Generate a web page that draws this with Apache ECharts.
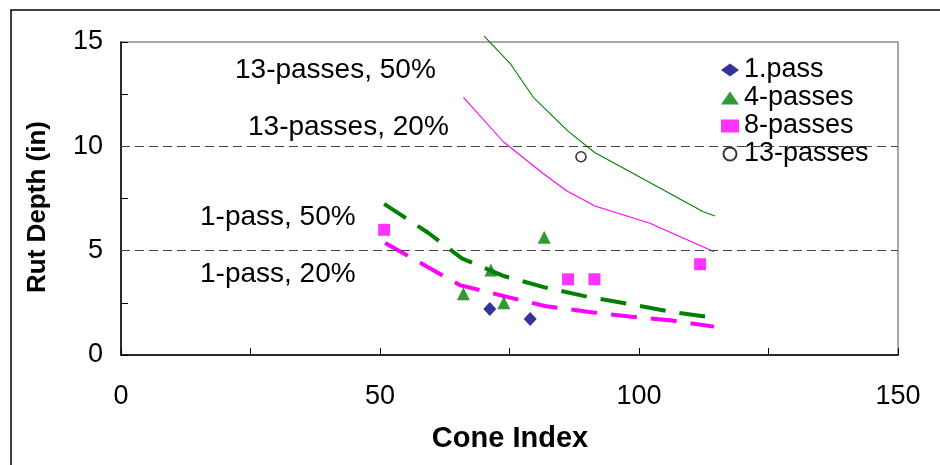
<!DOCTYPE html>
<html>
<head>
<meta charset="utf-8">
<script src="https://cdn.jsdelivr.net/npm/echarts@6/dist/echarts.min.js"></script>
<style>
  html, body { margin: 0; padding: 0; background: #fff; }
  #chart { width: 940px; height: 465px; }
</style>
</head>
<body>
<div id="chart"></div>
<script>
// Measured rut depths (Cone Index, Rut Depth in inches)
const onePass = [[71.2, 2.2], [79.0, 1.72]];
const fourPasses = [[66.1, 2.94], [71.4, 4.07], [73.9, 2.5], [81.7, 5.64]];
const eightPasses = [[50.8, 6.0], [86.3, 3.63], [91.4, 3.63], [111.8, 4.35]];
const thirteenPasses = [[88.8, 9.5]];

// Predicted rut depth curves
const pred13Pass50 = [[70.1, 15.28], [75.1, 13.98], [79.6, 12.35], [86.3, 10.73], [91.5, 9.69], [98.9, 8.7], [112.4, 6.87], [114.7, 6.66]];
const pred13Pass20 = [[66.1, 12.35], [73.8, 10.22], [81.5, 8.7], [86.0, 7.87], [91.5, 7.14], [102.1, 6.31], [114.5, 4.95]];
const pred1Pass50 = [[50.8, 7.24], [59.3, 5.86], [65.8, 4.63], [73.7, 3.8], [81.8, 3.24], [90.1, 2.79], [98.2, 2.44], [106.3, 2.07], [114.5, 1.78]];
const pred1Pass20 = [[51.0, 5.37], [58.0, 4.39], [65.4, 3.35], [73.8, 2.83], [81.8, 2.35], [90.1, 2.07], [98.2, 1.84], [106.3, 1.65], [114.5, 1.36]];

// Reference depths drawn as dashed horizontal lines
const refDepths = [5, 10];

const curveLabels = ['13-passes, 50%', '13-passes, 20%', '1-pass, 50%', '1-pass, 20%'];
const legendNames = ['1.pass', '4-passes', '8-passes', '13-passes'];

const FONT = "'Liberation Sans', Arial, sans-serif";
const FS = 27;

const chart = echarts.init(document.getElementById('chart'), null, { renderer: 'canvas' });

// Pixel anchors (left edge, vertical middle) of the curve captions
const labelPos = [[235, 70], [248, 127], [200, 217], [200, 274]];

const option = {
  backgroundColor: '#fff',
  animation: false,
  grid: {
    left: 121, right: 42, top: 42, bottom: 110,
    show: true, borderColor: '#8a8a8a', borderWidth: 1.5, backgroundColor: 'transparent'
  },
  xAxis: {
    type: 'value', min: 0, max: 150, interval: 25,
    axisLine: { show: true, onZero: false, lineStyle: { color: '#000', width: 1.5 } },
    axisTick: { show: true, inside: true, length: 7, lineStyle: { color: '#000', width: 1 } },
    axisLabel: {
      margin: 28, color: '#000', fontFamily: FONT, fontSize: FS,
      formatter: v => (v % 50 === 0 ? String(v) : '')
    },
    splitLine: { show: false }
  },
  yAxis: {
    type: 'value', min: 0, max: 15, interval: 2.5,
    axisLine: { show: true, onZero: false, lineStyle: { color: '#000', width: 1.5 } },
    axisTick: { show: true, inside: true, length: 7, lineStyle: { color: '#000', width: 1 } },
    axisLabel: {
      margin: 18, color: '#000', fontFamily: FONT, fontSize: FS,
      formatter: v => (v % 5 === 0 ? String(v) : '')
    },
    splitLine: { show: false }
  },
  legend: {
    data: legendNames,
    orient: 'vertical',
    left: 716, top: 51,
    itemWidth: 18, itemHeight: 13, itemGap: 0,
    textStyle: { fontFamily: FONT, fontSize: FS, color: '#000', lineHeight: 28 },
    selectedMode: false
  },
  graphic: [
    {
      type: 'rect', z: -10, silent: true,
      shape: { x: 11, y: 10, width: 1200, height: 1200 },
      style: { fill: 'none', stroke: '#000', lineWidth: 1.5 }
    },
    {
      type: 'text', x: 38, y: 207, rotation: Math.PI / 2,
      style: { text: 'Rut Depth (in)', fontFamily: FONT, fontSize: 26, fontWeight: 'bold', fill: '#000', align: 'center', verticalAlign: 'middle' }
    },
    {
      type: 'text', x: 510, y: 439,
      style: { text: 'Cone Index', fontFamily: FONT, fontSize: 29, fontWeight: 'bold', fill: '#000', align: 'center', verticalAlign: 'middle' }
    }
  ].concat(curveLabels.map((t, i) => ({
    type: 'text', x: labelPos[i][0], y: labelPos[i][1],
    style: { text: t, fontFamily: FONT, fontSize: 28, fill: '#000', align: 'left', verticalAlign: 'middle' }
  }))),
  series: [
    {
      name: 'ref', type: 'line', data: [], silent: true,
      markLine: {
        silent: true, symbol: 'none', label: { show: false },
        lineStyle: { color: '#444', width: 1.2, type: [9, 5] },
        data: refDepths.map(v => ({ yAxis: v }))
      }
    },
    {
      name: '13-passes, 50%', type: 'line', data: pred13Pass50, clip: false,
      symbol: 'none', lineStyle: { color: '#008000', width: 1.1 }, z: 2
    },
    {
      name: '13-passes, 20%', type: 'line', data: pred13Pass20,
      symbol: 'none', lineStyle: { color: '#ff00ff', width: 1.1 }, z: 2
    },
    {
      name: '1-pass, 50%', type: 'line', data: pred1Pass50,
      symbol: 'none', lineStyle: { color: '#008000', width: 4, type: [26, 14] }, z: 2
    },
    {
      name: '1-pass, 20%', type: 'line', data: pred1Pass20,
      symbol: 'none', lineStyle: { color: '#ff00ff', width: 4, type: [26, 14] }, z: 2
    },
    {
      name: '1.pass', type: 'scatter', data: onePass, symbol: 'diamond', symbolSize: [13, 14],
      itemStyle: { color: '#000080' }, z: 5
    },
    {
      name: '4-passes', type: 'scatter', data: fourPasses, symbol: 'triangle', symbolSize: [13, 13],
      itemStyle: { color: '#008000' }, z: 5
    },
    {
      name: '8-passes', type: 'scatter', data: eightPasses, symbol: 'rect', symbolSize: 12,
      itemStyle: { color: '#ff00ff' }, z: 5
    },
    {
      name: '13-passes', type: 'scatter', data: thirteenPasses, symbol: 'circle', symbolSize: 10,
      itemStyle: { color: '#fff', borderColor: '#000', borderWidth: 1.6 }, z: 5
    }
  ]
};

chart.setOption(option);
</script>
</body>
</html>
